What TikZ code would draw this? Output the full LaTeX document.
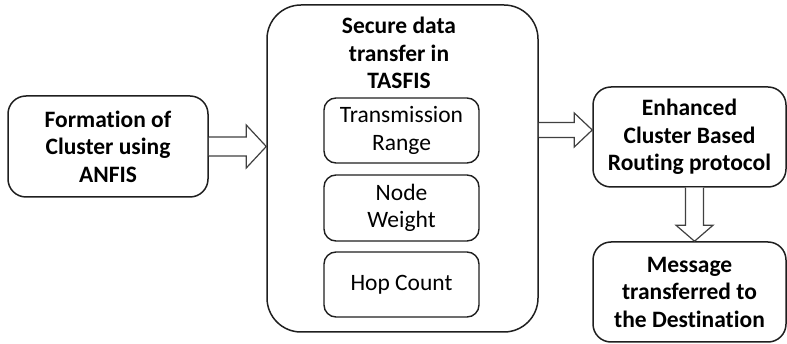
\documentclass[tikz,border=0pt]{standalone}
\usepackage{fontspec}
\setmainfont[Ligatures=NoCommon]{Carlito}
\usetikzlibrary{calc}
\begin{document}
\begin{tikzpicture}[x=1pt,y=-1pt,
  box/.style={draw=black!88, line width=1.5pt, rounded corners=18pt, align=center,
    inner sep=0pt, font=\fontsize{23.5}{27.5}\selectfont\bfseries},
  subbox/.style={draw=black!88, line width=1.4pt, rounded corners=12pt, align=center,
    inner sep=0pt, minimum width=155pt, font=\fontsize{23.5}{27.5}\selectfont},
  hollow/.style={draw=black!75, line width=1.2pt, fill=white, line join=miter}]
\useasboundingbox (0,0) rectangle (787,344);

% stages
\node[box, minimum width=200pt, minimum height=101pt] (L) at (108,146.5)
  {Formation of\\Cluster using\\ANFIS};
\node[box, rounded corners=34pt, minimum width=271pt, minimum height=327pt] (B) at (402.5,168.5) {};
\node[font=\fontsize{23.5}{27.5}\selectfont\bfseries, align=center, inner sep=0pt] (T) at (399,53)
  {Secure data\\transfer in\\TASFIS};
\node[subbox, minimum height=65pt] (S1) at (401.5,130.5) {Transmission\\Range};
\node[subbox, minimum height=66pt] (S2) at (401.5,208) {Node\\Weight};
\node[subbox, minimum height=65pt] (S3) at (401.5,284.5) {Hop Count};
\node[box, minimum width=193pt, minimum height=100pt] (E) at (689.5,137)
  {Enhanced\\Cluster Based\\Routing protocol};
\node[box, minimum width=193pt, minimum height=100pt] (M) at (689.5,292)
  {Message\\transferred to\\the Destination};

% block arrows between stages
\coordinate (a1) at (L.east);
\coordinate (a1t) at (B.west |- L.east);
\draw[hollow] ($(a1)+(0,-9.5)$) -- ($(a1t)+(-20,-9.5)$) -- ($(a1t)+(-20,-21.5)$) -- (a1t)
  -- ($(a1t)+(-20,21.5)$) -- ($(a1t)+(-20,9.5)$) -- ($(a1)+(0,9.5)$);

\coordinate (a2) at ($(B.east)+(0,-38.5)$);
\coordinate (a2t) at (E.west |- a2);
\draw[hollow] ($(a2)+(0,-7.5)$) -- ($(a2t)+(-18,-7.5)$) -- ($(a2t)+(-18,-17)$) -- (a2t)
  -- ($(a2t)+(-18,17)$) -- ($(a2t)+(-18,7.5)$) -- ($(a2)+(0,7.5)$);

\coordinate (a3) at ($(E.south)+(5,0)$);
\coordinate (a3t) at (a3 |- M.north);
\draw[hollow] ($(a3)+(-9,0)$) -- ($(a3t)+(-9,-16)$) -- ($(a3t)+(-18.5,-16)$) -- (a3t)
  -- ($(a3t)+(18.5,-16)$) -- ($(a3t)+(9,-16)$) -- ($(a3)+(9,0)$);
\end{tikzpicture}
\end{document}
